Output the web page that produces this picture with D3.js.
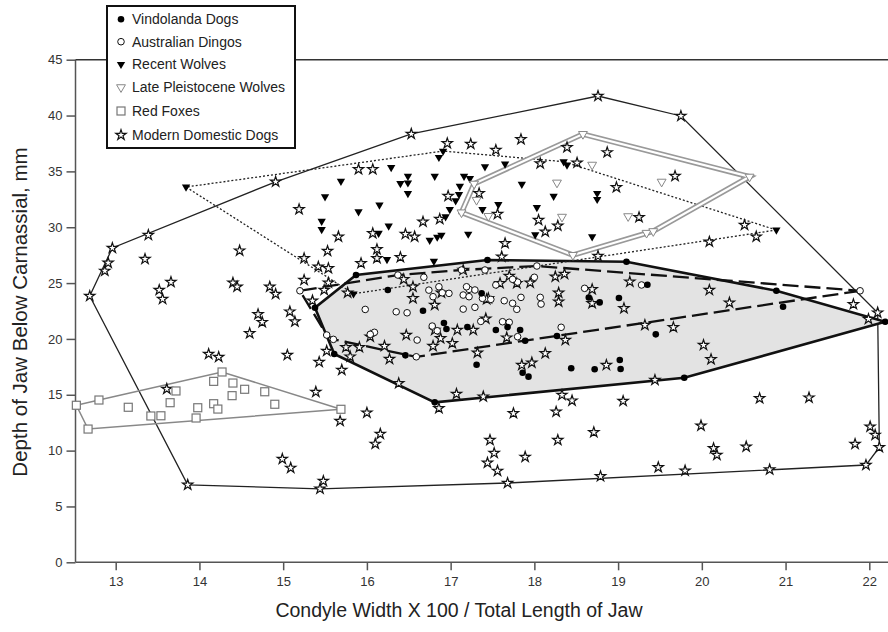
<!DOCTYPE html>
<html><head><meta charset="utf-8">
<script src="https://cdn.jsdelivr.net/npm/d3@7"></script>
<style>body{margin:0;background:#fff}svg{display:block;font-family:"Liberation Sans",Arial,sans-serif}</style>
</head><body><svg id="c" width="888" height="632"></svg>
<script>
const xTicks=[13,14,15,16,17,18,19,20,21,22];
const yTicks=[0,5,10,15,20,25,30,35,40,45];
const legendLabels=["Vindolanda Dogs","Australian Dingos","Recent Wolves","Late Pleistocene Wolves","Red Foxes","Modern Domestic Dogs"];

const vindolanda=[[15.87,25.72],[17.44,27.06],[19.10,26.91],[22.19,21.54],[19.79,16.52],[16.81,14.32],[15.61,18.65],[15.38,22.79],[16.25,24.38],[16.67,22.52],[16.92,21.42],[16.95,20.89],[17.20,21.06],[17.37,24.08],[17.54,20.80],[17.68,21.06],[17.83,20.80],[17.89,19.84],[18.27,20.26],[17.31,17.69],[17.86,16.97],[17.93,16.62],[18.44,17.37],[18.72,17.28],[16.46,18.53],[18.65,23.71],[18.78,23.27],[19.01,23.66],[19.35,24.85],[20.89,24.31],[20.97,22.88],[19.45,20.41],[19.02,18.11],[19.03,17.31]];

const dingos=[[15.20,24.31],[15.98,22.64],[16.35,22.43],[16.48,22.34],[16.68,25.52],[16.37,25.72],[16.74,24.37],[16.90,24.13],[16.98,24.08],[17.15,23.93],[17.22,24.44],[17.29,24.38],[17.41,26.17],[17.38,23.63],[17.48,23.54],[17.15,22.67],[17.29,22.83],[17.36,21.57],[16.78,21.15],[16.84,20.73],[16.60,19.90],[16.09,20.59],[16.04,20.41],[15.52,20.35],[15.60,19.96],[16.59,18.40],[17.64,23.42],[17.74,23.19],[17.79,22.65],[17.84,23.72],[17.62,21.54],[17.70,21.49],[17.80,20.20],[18.07,23.72],[18.08,23.12],[18.03,26.53],[17.13,26.17],[18.32,21.04],[18.60,24.53],[17.80,25.09],[17.74,25.34],[18.00,25.52],[19.28,24.83],[21.89,24.31],[16.86,24.67],[16.79,23.78],[17.19,24.67],[17.22,23.78],[17.54,24.83]];

const recentWolves=[[13.84,33.60],[15.69,34.13],[15.50,32.73],[15.46,30.55],[15.46,29.81],[15.90,31.39],[16.15,31.99],[16.26,30.11],[16.14,29.46],[16.29,35.36],[16.49,34.58],[16.49,33.98],[16.40,33.93],[16.49,33.03],[16.81,34.58],[16.86,36.26],[16.91,36.82],[17.41,35.42],[17.65,35.66],[17.16,34.58],[17.23,34.37],[17.11,33.68],[17.10,32.94],[17.06,32.37],[16.99,31.60],[16.94,30.95],[16.75,28.85],[16.84,29.12],[16.89,29.30],[17.21,29.39],[17.38,31.60],[17.57,32.05],[17.85,33.86],[18.23,32.78],[18.03,31.77],[18.01,29.34],[18.35,35.87],[18.39,35.57],[18.75,33.04],[18.75,32.50],[18.69,29.15],[20.89,29.75],[16.24,27.12],[16.80,26.97],[15.84,24.04]];

const pleistoceneWolves=[[18.58,38.34],[20.57,34.52],[18.46,27.51],[17.13,31.32],[17.28,33.89],[18.69,35.59],[18.27,33.99],[19.52,34.07],[17.45,31.00],[17.31,32.44],[18.33,30.93],[19.12,30.98],[19.34,29.49],[19.42,29.64]];

const redFoxes=[[12.53,14.06],[12.67,11.93],[12.80,14.53],[13.15,13.88],[13.42,13.10],[13.54,13.12],[13.65,14.29],[13.72,15.34],[13.96,12.92],[13.98,13.84],[14.17,16.20],[14.17,14.20],[14.22,13.72],[14.27,17.04],[14.39,14.92],[14.40,16.05],[14.54,15.49],[14.78,15.27],[14.90,14.15],[15.69,13.70]];

const domesticDogs=[[12.69,23.84],[12.87,26.09],[12.91,26.81],[12.96,28.14],[13.39,29.30],[13.35,27.15],[13.52,24.38],[13.56,23.57],[13.66,25.09],[13.61,15.52],[14.11,18.65],[14.23,18.38],[13.86,6.93],[14.48,27.90],[14.40,25.03],[14.45,24.67],[14.84,24.67],[14.91,24.02],[14.91,34.07],[15.05,18.56],[15.43,17.93],[15.70,17.22],[15.52,18.92],[15.39,15.25],[14.99,9.25],[15.09,8.45],[15.48,7.28],[15.44,6.58],
[15.90,35.18],[16.07,35.18],[15.19,31.60],[15.25,27.21],[15.42,26.46],[15.54,26.32],[15.53,27.87],[15.66,29.15],[15.25,25.27],[15.54,25.03],[15.49,24.38],[15.35,23.42],[16.07,29.45],[16.12,28.02],[16.12,27.22],[15.93,26.77],[16.40,27.31],[16.46,29.39],[16.57,29.15],[16.67,30.49],[16.87,30.73],[16.97,32.79],[16.96,37.51],[17.24,37.45],[17.54,36.91],[17.34,33.03],[17.15,26.17],[16.55,24.67],[16.44,25.33],[15.77,24.13],[16.55,23.63],[16.81,23.04],[16.89,24.13],[17.45,23.63],
[15.08,22.44],[15.14,21.55],[16.04,20.20],[16.47,20.35],[15.80,18.41],[15.75,19.25],[15.91,19.25],[16.21,19.36],[16.27,18.20],[16.81,20.80],[16.88,20.05],[17.02,19.61],[17.08,20.80],[17.27,20.80],[17.42,21.81],[17.67,20.11],[16.79,19.36],[16.38,16.03],[17.07,15.07],[17.39,14.83],[16.86,13.79],[16.00,13.39],[17.75,13.34],[18.26,13.48],[18.33,14.98],[18.45,14.47],[17.32,18.76],[17.85,17.66],[17.97,17.87],[18.13,18.71],[18.37,19.90],[18.25,25.57],[18.36,25.81],[17.95,25.03],[17.70,25.63],[17.79,24.98],[17.43,23.55],[17.59,24.98],[17.61,27.36],[18.29,24.13],[18.29,23.33],[18.69,24.44],[18.69,23.19],[17.65,28.56],
[18.76,27.42],[20.09,28.70],[19.14,25.12],[19.07,22.74],[20.09,24.38],[20.33,23.24],[21.81,23.10],[22.10,22.35],[21.99,21.78],[19.32,21.24],[19.66,21.04],[20.02,19.45],[20.11,18.17],[18.86,17.66],[19.44,16.32],[19.06,14.44],[20.69,14.68],[21.28,14.74],[18.71,11.64],[19.99,12.23],[20.14,10.21],[20.18,9.61],[20.53,10.35],[21.83,10.59],[22.01,12.14],[22.07,11.40],[22.12,10.30],
[17.84,37.87],[18.39,37.15],[18.87,36.70],[18.07,35.71],[18.51,35.77],[19.68,34.58],[18.98,33.57],[17.56,31.18],[18.05,30.64],[18.28,30.13],[18.13,29.60],[19.25,30.89],[20.51,30.20],[20.65,29.15],
[16.53,38.35],[18.76,41.75],[19.75,39.96],[21.96,8.71],
[17.47,10.94],[17.52,9.78],[17.44,8.90],[17.56,8.18],[17.68,7.10],[17.89,9.43],[18.28,10.94],[18.79,7.70],[19.48,8.50],[19.80,8.20],[20.81,8.30],[16.16,11.49],[16.10,10.60],[15.68,12.65],
[14.70,22.20],[14.75,21.50],[14.60,20.50]];

const svg=d3.select("#c");
const x=d3.scaleLinear().domain([13,22]).range([115.7,869.3]);
const y=d3.scaleLinear().domain([0,45]).range([562.3,59.7]);
const xMin=12.52;

const hullLine=d3.line().x(d=>x(d[0])).y(d=>y(d[1])).curve(d3.curveLinearClosed);
const hull=pts=>hullLine(d3.polygonHull(pts));

// axes
const gx=svg.append("g").attr("transform",`translate(0,${y(0)})`)
  .call(d3.axisBottom(x).tickValues(xTicks).tickSize(8).tickPadding(6));
const gy=svg.append("g").attr("transform",`translate(${x(xMin)},0)`)
  .call(d3.axisLeft(y).tickValues(yTicks).tickSize(9).tickPadding(4));
[gx,gy].forEach(g=>{g.select(".domain").remove();g.selectAll("line").attr("stroke","#555").attr("stroke-width",1.5);
  g.selectAll("text").attr("fill","#333").style("font-size","13px").style("font-family","'Liberation Sans',Arial,sans-serif");});
svg.append("line").attr("x1",x(xMin)).attr("x2",888).attr("y1",y(0)).attr("y2",y(0)).attr("stroke","#555").attr("stroke-width",1.5);
svg.append("line").attr("x1",x(xMin)).attr("x2",x(xMin)).attr("y1",y(0)).attr("y2",y(45)).attr("stroke","#555").attr("stroke-width",1.5);
svg.append("line").attr("x1",x(xMin)).attr("x2",888).attr("y1",y(45)).attr("y2",y(45)).attr("stroke","#333").attr("stroke-width",1.5);

svg.append("text").attr("x",459).attr("y",617).attr("text-anchor","middle").style("font-size","19.5px").attr("fill","#222")
  .text("Condyle Width X 100 / Total Length of Jaw");
svg.append("text").attr("transform","translate(27,312) rotate(-90)").attr("text-anchor","middle").style("font-size","20.5px").attr("fill","#222")
  .text("Depth of Jaw Below Carnassial, mm");

// hulls
svg.append("path").attr("d",hull(domesticDogs)).attr("fill","none").attr("stroke","#222").attr("stroke-width",1.3);
svg.append("path").attr("d",hull(vindolanda)).attr("fill","#e3e3e3").attr("stroke","#111").attr("stroke-width",2.6);
svg.append("path").attr("d",hull(dingos)).attr("fill","none").attr("stroke","#111").attr("stroke-width",2.3).attr("stroke-dasharray","16,6");
svg.append("path").attr("d",hull(recentWolves)).attr("fill","none").attr("stroke","#222").attr("stroke-width",1.3).attr("stroke-dasharray","2,2");
svg.append("path").attr("d",hull(pleistoceneWolves)).attr("fill","none").attr("stroke","#999").attr("stroke-width",5.5);
svg.append("path").attr("d",hull(pleistoceneWolves)).attr("fill","none").attr("stroke","#fff").attr("stroke-width",2.2);
svg.append("path").attr("d",hull(redFoxes)).attr("fill","none").attr("stroke","#888").attr("stroke-width",1.5);

// symbols
const star=d3.symbol().type(d3.symbolStar).size(33)();
const tri=d3.symbol().type(d3.symbolTriangle).size(30)();
const triO=d3.symbol().type(d3.symbolTriangle).size(34)();
const styles={
  star:s=>s.append("path").attr("d",star).attr("fill","#fff").attr("stroke","#111").attr("stroke-width",1.2),
  dot:s=>s.append("circle").attr("r",3.3).attr("fill","#000"),
  ring:s=>s.append("circle").attr("r",3.3).attr("fill","#fff").attr("stroke","#111").attr("stroke-width",1),
  wolf:s=>s.append("path").attr("d",tri).attr("transform","rotate(180)").attr("fill","#000"),
  pleist:s=>s.append("path").attr("d",triO).attr("transform","rotate(180)").attr("fill","#fff").attr("stroke","#888").attr("stroke-width",1),
  fox:s=>s.append("rect").attr("x",-4).attr("y",-4).attr("width",8).attr("height",8).attr("fill","#fff").attr("stroke","#777").attr("stroke-width",1.2)
};
function plot(data,kind){
  const g=svg.append("g").selectAll("g").data(data).join("g").attr("transform",d=>`translate(${x(d[0])},${y(d[1])})`);
  styles[kind](g);
}
plot(domesticDogs,"star");
plot(redFoxes,"fox");
plot(dingos,"ring");
plot(vindolanda,"dot");
plot(recentWolves,"wolf");
plot(pleistoceneWolves,"pleist");

// legend
const lg=svg.append("g");
lg.append("rect").attr("x",107).attr("y",6).attr("width",188).attr("height",142).attr("fill","#fff").attr("stroke","#111").attr("stroke-width",2);
const kinds=["dot","ring","wolf","pleist","fox","star"];
const ly=[19.3,41.7,64.3,87.3,111,135];
legendLabels.forEach((t,i)=>{
  const g=lg.append("g").attr("transform",`translate(121,${ly[i]})`);
  styles[kinds[i]](g);
  lg.append("text").attr("x",132).attr("y",ly[i]+5).style("font-size","14px").attr("fill","#222").text(t);
});
</script></body></html>
